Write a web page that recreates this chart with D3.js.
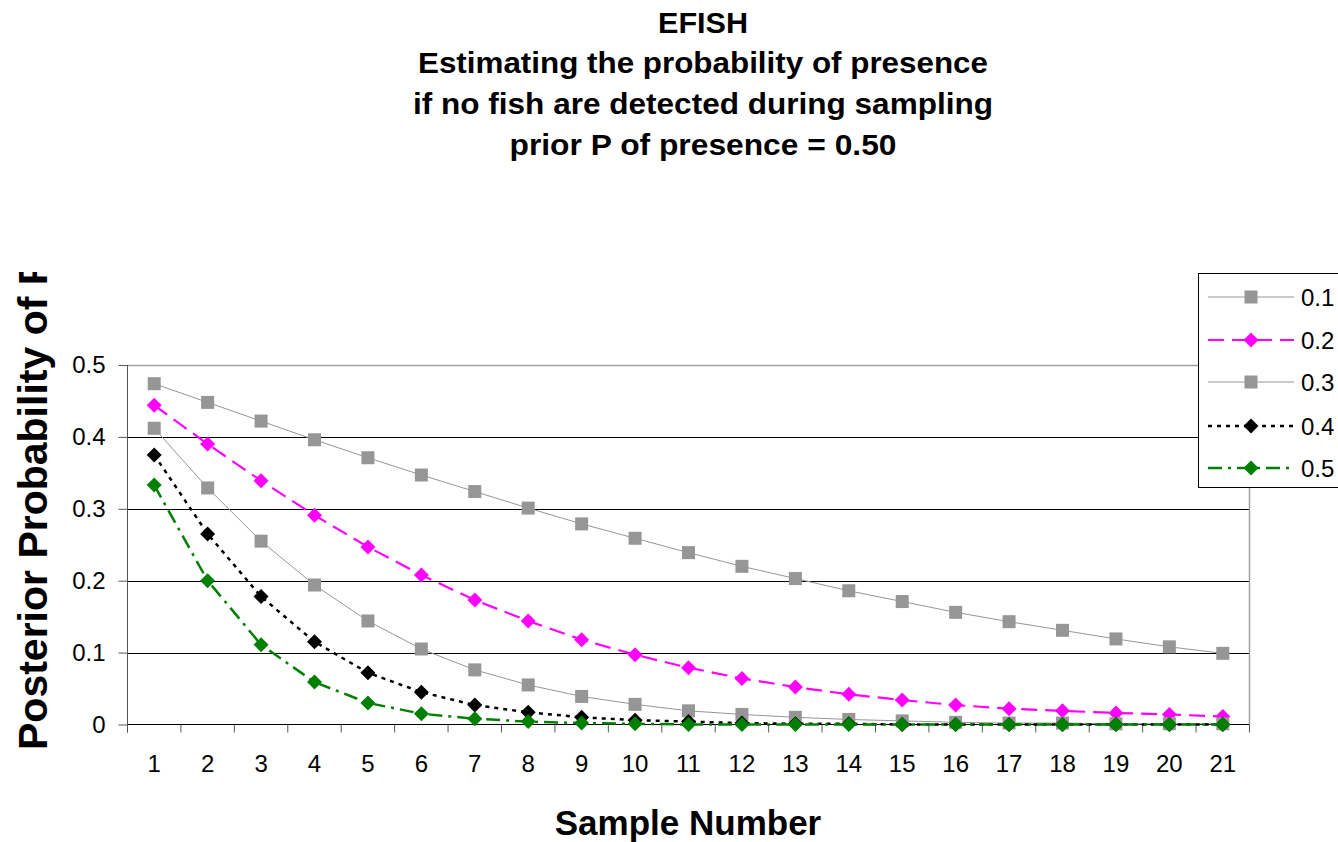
<!DOCTYPE html>
<html>
<head>
<meta charset="utf-8">
<script src="https://cdn.jsdelivr.net/npm/d3@7"></script>
<style>
  body { margin: 0; background: #fff; }
  svg { display: block; font-family: Arial, "Liberation Sans", sans-serif; }
</style>
</head>
<body>
<svg id="chart" width="1338" height="842"></svg>
<script>
// sample numbers along the x axis
const samples = [1, 2, 3, 4, 5, 6, 7, 8, 9, 10, 11, 12, 13, 14, 15, 16, 17, 18, 19, 20, 21];
const yTicks = [0, 0.1, 0.2, 0.3, 0.4, 0.5];

// posterior probability of presence, one array per detection probability
const p01 = [0.474, 0.448, 0.422, 0.396, 0.371, 0.347, 0.324, 0.301, 0.279, 0.259, 0.239,
             0.220, 0.203, 0.186, 0.171, 0.156, 0.143, 0.131, 0.119, 0.108, 0.099];
const p02 = [0.444, 0.390, 0.339, 0.291, 0.247, 0.208, 0.173, 0.144, 0.118, 0.097, 0.079,
             0.064, 0.052, 0.042, 0.034, 0.027, 0.022, 0.019, 0.016, 0.014, 0.011];
const p03 = [0.412, 0.329, 0.255, 0.194, 0.144, 0.105, 0.076, 0.055, 0.039, 0.028, 0.019,
             0.014, 0.010, 0.007, 0.005, 0.003, 0.002, 0.002, 0.001, 0.001, 0.001];
const p04 = [0.375, 0.265, 0.178, 0.115, 0.072, 0.045, 0.027, 0.017, 0.010, 0.006, 0.004,
             0.002, 0.001, 0.001, 0, 0, 0, 0, 0, 0, 0];
const p05 = [0.333, 0.200, 0.111, 0.059, 0.030, 0.015, 0.008, 0.004, 0.002, 0.001, 0,
             0, 0, 0, 0, 0, 0, 0, 0, 0, 0];

const seriesNames = ["0.1", "0.2", "0.3", "0.4", "0.5"];
const seriesValues = [p01, p02, p03, p04, p05];

const titleLines = [
  "EFISH",
  "Estimating the probability of presence",
  "if no fish are detected during sampling",
  "prior P of presence = 0.50",
];

// look of each series, in drawing order
const styles = [
  { color: "#969696", width: 1, dash: null, marker: "square" },
  { color: "#ff00ff", width: 2.2, dash: "16,8", marker: "diamond" },
  { color: "#969696", width: 1, dash: null, marker: "square" },
  { color: "#000000", width: 2.5, dash: "4,5", marker: "diamond" },
  { color: "#008000", width: 2.5, dash: "14,6,3,6", marker: "diamond" },
];

const svg = d3.select("#chart");
const plot = { left: 127.5, right: 1249.5, top: 365, bottom: 724.5 };

const x = d3.scaleBand().domain(samples).range([plot.left, plot.right]);
const y = d3.scaleLinear().domain([0, 0.5]).range([plot.bottom, plot.top]);
const cx = (d) => x(d) + x.bandwidth() / 2;

// title
const titleWidths = [90, 570, 580, 387];
const titleBase = [33, 73, 114, 155];
svg.append("g")
  .selectAll("text")
  .data(titleLines)
  .join("text")
  .attr("x", 703)
  .attr("y", (d, i) => titleBase[i])
  .attr("text-anchor", "middle")
  .attr("font-size", 30)
  .attr("font-weight", "bold")
  .attr("textLength", (d, i) => titleWidths[i])
  .attr("lengthAdjust", "spacingAndGlyphs")
  .text((d) => d);

// gridlines
svg.append("g")
  .selectAll("line")
  .data(yTicks.filter((t) => t > 0 && t < 0.5))
  .join("line")
  .attr("x1", plot.left)
  .attr("x2", plot.right)
  .attr("y1", (d) => Math.round(y(d)) + 0.5)
  .attr("y2", (d) => Math.round(y(d)) + 0.5)
  .attr("stroke", "#000");

// plot border (top + right)
svg.append("path")
  .attr("d", `M${plot.left},${plot.top + 0.5}H${plot.right}V${plot.bottom}`)
  .attr("fill", "none")
  .attr("stroke", "#a0a0a0")
  .attr("stroke-width", 1.5);

// y axis
const yAxis = svg.append("g")
  .attr("transform", `translate(${plot.left},0)`)
  .call(d3.axisLeft(y).tickValues(yTicks).tickSize(9).tickPadding(13)
    .tickFormat((d) => (d === 0 ? "0" : d3.format(".1f")(d))));
yAxis.select(".domain").attr("d", `M0,${plot.top}V${plot.bottom + 8}`).attr("stroke", "#555");
yAxis.selectAll(".tick line").attr("stroke", "#555");
yAxis.selectAll(".tick text").attr("font-size", 24).attr("font-family", null).attr("fill", "#000");

// x axis: labels at band centres, tick marks at band edges
const xAxis = svg.append("g")
  .attr("transform", `translate(0,${plot.bottom})`)
  .call(d3.axisBottom(x).tickSize(0).tickPadding(30));
xAxis.select(".domain").attr("d", `M${plot.left},0H${plot.right}`).attr("stroke", "#000");
xAxis.selectAll(".tick text").attr("font-size", 24).attr("font-family", null).attr("fill", "#000");
xAxis.append("g")
  .selectAll("line")
  .data(samples.concat([null]))
  .join("line")
  .attr("x1", (d) => (d === null ? plot.right : x(d)))
  .attr("x2", (d) => (d === null ? plot.right : x(d)))
  .attr("y1", 0)
  .attr("y2", 8)
  .attr("stroke", "#555");

// series
const line = d3.line().x((d, i) => cx(samples[i])).y((d) => y(d));

function marker(sel, type, color) {
  if (type === "square") {
    sel.append("rect").attr("x", -6.5).attr("y", -6.5).attr("width", 13).attr("height", 13).attr("fill", color);
  } else {
    sel.append("path").attr("d", "M0,-7.5L7.5,0L0,7.5L-7.5,0Z").attr("fill", color);
  }
}

seriesValues.forEach((vals, k) => {
  const st = styles[k];
  const g = svg.append("g");
  g.append("path")
    .attr("d", line(vals))
    .attr("fill", "none")
    .attr("stroke", st.color)
    .attr("stroke-width", st.width)
    .attr("stroke-dasharray", st.dash);
  g.selectAll("g")
    .data(vals)
    .join("g")
    .attr("transform", (d, i) => `translate(${cx(samples[i])},${y(d)})`)
    .each(function () { marker(d3.select(this), st.marker, st.color); });
});

// axis titles
svg.append("text")
  .attr("x", 688)
  .attr("y", 835)
  .attr("text-anchor", "middle")
  .attr("font-size", 35)
  .attr("font-weight", "bold")
  .text("Sample Number");

// the y title is longer than the space Excel gave it, so it is cut at the top
svg.append("clipPath").attr("id", "ytclip")
  .append("rect").attr("x", 0).attr("y", 272).attr("width", 80).attr("height", 570);
svg.append("g")
  .attr("clip-path", "url(#ytclip)")
  .append("text")
  .attr("transform", "translate(47,750) rotate(-90)")
  .attr("font-size", 41)
  .attr("font-weight", "bold")
  .text("Posterior Probability of Presence");

// legend
const legend = svg.append("g");
legend.append("rect")
  .attr("x", 1198.5).attr("y", 273.5).attr("width", 160).attr("height", 214)
  .attr("fill", "#fff").attr("stroke", "#000");
const legendY = [297, 340, 382, 426, 468];
seriesNames.forEach((name, k) => {
  const st = styles[k];
  const row = legend.append("g").attr("transform", `translate(0,${legendY[k]})`);
  row.append("line")
    .attr("x1", 1208).attr("x2", 1294)
    .attr("stroke", st.color)
    .attr("stroke-width", st.width)
    .attr("stroke-dasharray", st.dash);
  marker(row.append("g").attr("transform", "translate(1251,0)"), st.marker, st.color);
  row.append("text")
    .attr("x", 1301).attr("y", 9)
    .attr("font-size", 24)
    .text(name);
});
</script>
</body>
</html>
